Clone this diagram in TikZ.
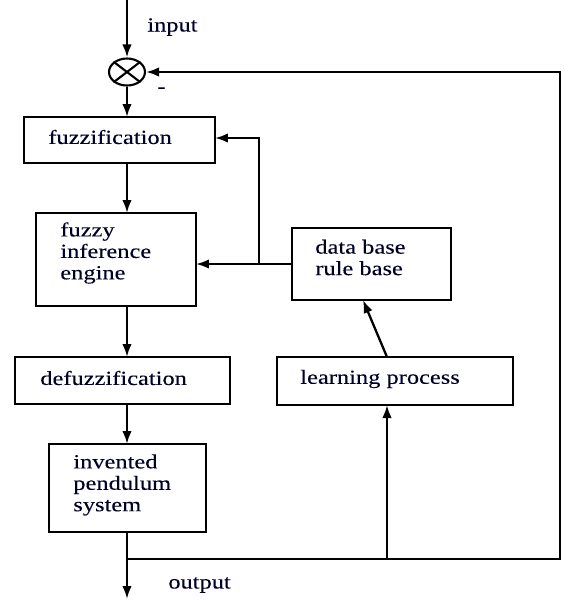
\documentclass[tikz,border=0pt]{standalone}
\usepackage{fontspec}
\setmainfont{Liberation Serif}
\newfontfamily\lblfont[FakeStretch=1.22,FakeBold=0.12]{Liberation Serif}
\usetikzlibrary{arrows.meta,shapes.geometric}
\begin{document}
\begin{tikzpicture}[x=0.02cm,y=-0.02cm,
  box/.style={draw,line width=1.5pt,inner sep=0pt,outer sep=0pt},
  lbl/.style={font=\lblfont\fontsize{11.4}{12.2}\selectfont,align=left,anchor=west,inner sep=0pt,text=black!85!blue},
  conn/.style={line width=1.3pt},
  arr/.style={conn,-{Latex[length=0.26cm,width=0.19cm]}}]
\useasboundingbox (0,0) rectangle (565,600);
% summing junction
\node[draw,ellipse,line width=1.2pt,minimum width=0.72cm,minimum height=0.54cm,inner sep=0pt] (circ) at (127,72) {};
\draw[line width=1.2pt] (circ.north west) -- (circ.south east) (circ.north east) -- (circ.south west);
% boxes
\node[box,minimum width=3.82cm,minimum height=0.92cm] (fuzz) at (119.5,140) {};
\node[box,minimum width=3.2cm,minimum height=1.86cm] (infer) at (116,259.5) {};
\node[box,minimum width=4.3cm,minimum height=0.94cm] (defuzz) at (122.5,380.5) {};
\node[box,minimum width=3.14cm,minimum height=1.76cm] (pend) at (127.5,488) {};
\node[box,minimum width=3.18cm,minimum height=1.44cm] (data) at (371.5,264) {};
\node[box,minimum width=4.72cm,minimum height=0.96cm] (learn) at (395,381) {};
% texts
\node[lbl] (fuzzT) at (48,137) {fuzzification};
\node[lbl] (inferT) at (60,253) {fuzzy\\inference\\engine};
\node[lbl] (defuzzT) at (40,378) {defuzzification};
\node[lbl] (pendT) at (73,485) {invented\\pendulum\\system};
\node[lbl] (dataT) at (315,257.5) {data base\\rule base};
\node[lbl] (learnT) at (300,379) {learning process};
\node[lbl] (inT) at (147,27) {input};
\node[lbl] (outT) at (168,585) {output};
\node[lbl] (minusT) at (157,90) {-};
% coordinates
\coordinate (top) at (127,0);
\coordinate (bot) at (127,599);
\coordinate (j) at (127,559);
\coordinate (jl) at (387,559);
\coordinate (rb) at (560,559);
\coordinate (rt) at (560,72);
\coordinate (br) at (259,264);
\coordinate (bt) at (259,138);
\coordinate (dbot) at (363,300);
\coordinate (ltop) at (387,357);
% connectors
\draw[arr] (top) -- (circ.north);
\draw[arr] (circ.south) -- (circ.south |- fuzz.north);
\draw[arr] (fuzz.south -| 127,0) -- (infer.north -| 127,0);
\draw[arr] (infer.south -| 127,0) -- (defuzz.north -| 127,0);
\draw[arr] (defuzz.south -| 127,0) -- (pend.north -| 127,0);
\draw[arr] (pend.south -| 127,0) -- (bot);
\draw[arr] (j) -- (rb) -- (rt) -- (circ.east);
\draw[arr] (jl) -- (jl |- learn.south);
\draw[arr] (ltop) -- (dbot);
\draw[arr] (data.west |- br) -- (infer.east |- br);
\draw[arr] (br) -- (bt) -- (fuzz.east |- bt);
\end{tikzpicture}
\end{document}
